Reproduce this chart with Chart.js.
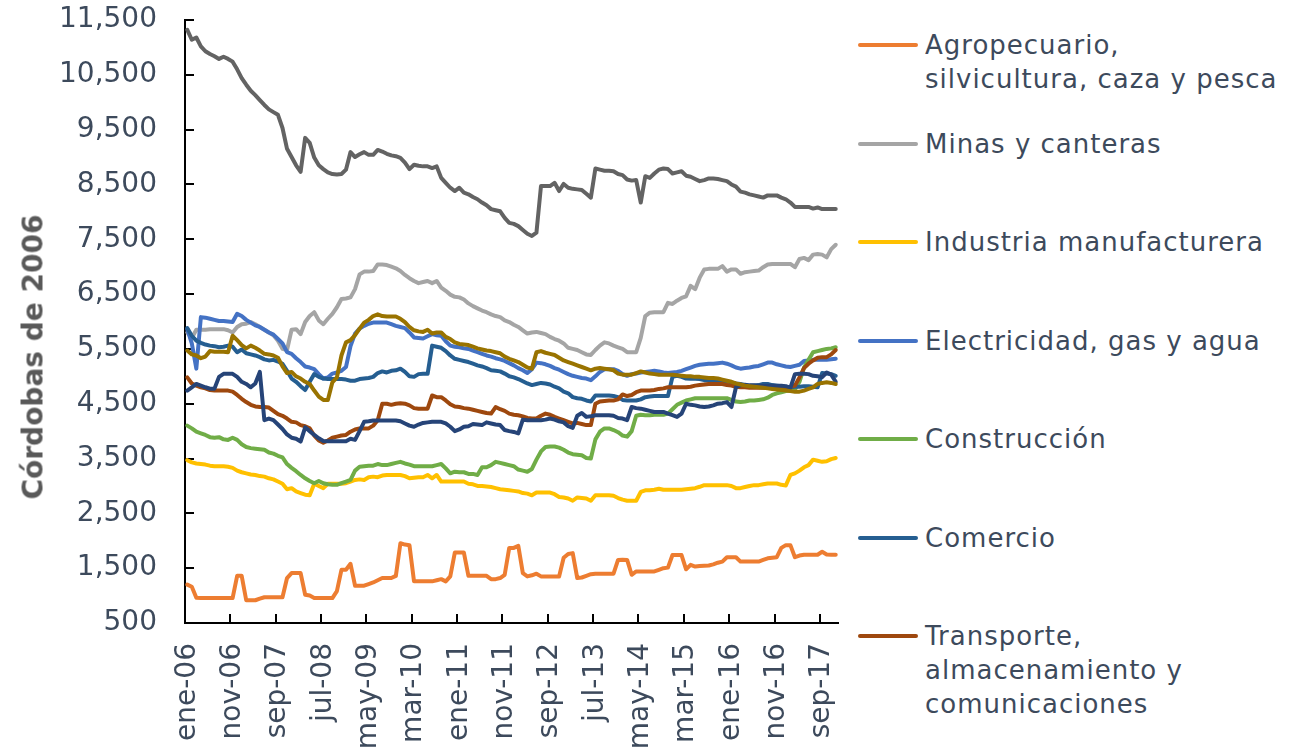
<!DOCTYPE html>
<html lang="es">
<head>
<meta charset="utf-8">
<title>Salario real por actividad económica</title>
<script src="https://cdn.jsdelivr.net/npm/chart.js@4.4.1/dist/chart.umd.min.js"></script>
<style>
  html, body { margin: 0; padding: 0; background: #fff; }
  body { width: 1293px; height: 752px; position: relative; overflow: hidden;
         font-family: "DejaVu Sans", Verdana, sans-serif; }
  #chartBox { position: absolute; left: 0; top: 0; width: 850px; height: 752px; }
  #yTitle { position: absolute; left: 33px; top: 357px; white-space: nowrap;
            transform: translate(-50%, -50%) rotate(-90deg);
            font-weight: bold; font-size: 28px; color: #595959; }
  #legend { position: absolute; left: 858px; top: 0; }
  .swatch { position: absolute; left: 0; width: 60px; height: 4px; border-radius: 2px; }
  .label { position: absolute; left: 67px; white-space: pre; font-size: 26px;
           line-height: 34px; letter-spacing: 1px; color: #3D4A5C; }
</style>
</head>
<body>
<div id="chartBox"><canvas id="chart"></canvas></div>
<div id="yTitle">Córdobas de 2006</div>
<div id="legend"></div>

<script>
// ===== DATA (monthly, ene-06 .. dic-17) =====
const monthNames = ['ene', 'feb', 'mar', 'abr', 'may', 'jun', 'jul', 'ago', 'sep', 'oct', 'nov', 'dic'];
const years = ['06', '07', '08', '09', '10', '11', '12', '13', '14', '15', '16', '17'];

const agropecuario = [
  1200, 1160, 960, 955, 955, 955, 955, 955, 955, 955, 955, 1360,
  1360, 915, 915, 915, 945, 970, 970, 970, 970, 970, 1320, 1410,
  1410, 1410, 1015, 1000, 955, 955, 955, 955, 955, 1080, 1470, 1470,
  1580, 1180, 1180, 1180, 1210, 1240, 1280, 1320, 1320, 1320, 1360, 1955,
  1930, 1920, 1260, 1260, 1260, 1260, 1260, 1280, 1300, 1260, 1350, 1785,
  1785, 1785, 1360, 1360, 1360, 1360, 1360, 1300, 1300, 1320, 1380, 1870,
  1870, 1906, 1410, 1350, 1370, 1400, 1350, 1350, 1350, 1350, 1350, 1690,
  1760, 1775, 1320, 1330, 1360, 1390, 1400, 1400, 1400, 1400, 1400, 1650,
  1655, 1650, 1380, 1440, 1440, 1440, 1440, 1440, 1470, 1500, 1510, 1740,
  1740, 1740, 1480, 1560, 1530, 1540, 1545, 1550, 1570, 1600, 1620, 1700,
  1700, 1700, 1620, 1620, 1620, 1620, 1620, 1650, 1680, 1690, 1700, 1870,
  1920, 1920, 1700, 1730, 1745, 1745, 1745, 1745, 1800, 1750, 1745, 1745
];

const minas = [
  5800, 5700, 5850, 5850, 5850, 5860, 5860, 5860, 5860, 5840, 5800, 5900,
  5950, 5960, 5990, 5950, 5900, 5850, 5800, 5750, 5650, 5500, 5480, 5850,
  5860, 5770, 5990, 6100, 6170, 6020, 5950, 6050, 6140, 6260, 6410, 6420,
  6440, 6590, 6860, 6910, 6910, 6920, 7040, 7040, 7030, 7000, 6970, 6920,
  6850, 6790, 6740, 6700, 6720, 6740, 6700, 6740, 6620, 6560, 6490, 6450,
  6440, 6400, 6330, 6280, 6240, 6200, 6170, 6130, 6100, 6080, 6020, 5990,
  5940, 5900, 5840, 5780, 5800, 5810, 5790, 5770, 5720, 5680, 5650, 5600,
  5520, 5500, 5480, 5440, 5400, 5390, 5480, 5560, 5620, 5600, 5560, 5530,
  5500, 5440, 5440, 5440, 5700, 6100, 6160, 6170, 6170, 6170, 6340, 6320,
  6380, 6430, 6460, 6650, 6590, 6800, 6950, 6960, 6960, 6960, 7010, 6910,
  6950, 6950, 6870, 6900, 6910, 6920, 6930, 6990, 7040, 7050, 7050, 7050,
  7050, 7050, 6990, 7140, 7160, 7120, 7220, 7230, 7220, 7170, 7320, 7400
];

const industria = [
  3470, 3430, 3410, 3400, 3390, 3370, 3360, 3360, 3360, 3350, 3330, 3280,
  3250, 3230, 3210, 3200, 3180, 3170, 3140, 3120, 3080, 3040, 2940, 2960,
  2900, 2870, 2840, 2830, 3040, 3000, 2960, 3040, 3040, 3040, 3040, 3050,
  3080, 3110, 3120, 3110, 3160, 3170, 3160, 3190, 3200, 3200, 3200, 3200,
  3180, 3140, 3150, 3160, 3160, 3200, 3140, 3200, 3080, 3080, 3080, 3080,
  3080, 3080, 3040, 3030, 3000, 3000, 2990, 2980, 2960, 2940, 2930, 2920,
  2910, 2900, 2870, 2860, 2830, 2880, 2880, 2880, 2880, 2850, 2800, 2790,
  2770, 2730, 2790, 2780, 2770, 2730, 2830, 2830, 2830, 2830, 2820, 2780,
  2750, 2730, 2730, 2730, 2890, 2920, 2920, 2930, 2950, 2930, 2930, 2930,
  2930, 2930, 2940, 2950, 2960, 2985, 3015, 3015, 3015, 3015, 3015, 3015,
  3000, 2960, 2960, 2980, 3000, 3015, 3015, 3030, 3045, 3045, 3045, 3020,
  3010, 3200, 3230, 3280, 3340, 3380, 3480, 3460, 3440, 3450, 3490, 3510
];

const electricidad = [
  5860, 5600, 5140, 6080, 6070, 6050, 6030, 6010, 6010, 6000, 5990, 6140,
  6100, 6030, 5980, 5930, 5900, 5850, 5800, 5760, 5680, 5600, 5440, 5410,
  5330, 5260, 5180, 5160, 5130, 5040, 4960, 4980, 5050, 5070, 5100, 5170,
  5550, 5780, 5870, 5920, 5960, 5980, 5980, 5980, 5980, 5950, 5920, 5900,
  5880, 5800, 5710, 5700, 5690, 5730, 5770, 5750, 5740, 5640, 5560, 5540,
  5530, 5510, 5500, 5470, 5440, 5410, 5380, 5360, 5330, 5310, 5280, 5240,
  5200, 5150, 5110, 5060, 5130, 5250, 5240, 5220, 5190, 5150, 5120, 5080,
  5040, 5010, 4990, 4970, 4960, 4930, 5000, 5080, 5130, 5130, 5130, 5100,
  5040, 5010, 5040, 5050, 5070, 5080, 5090, 5100, 5090, 5070, 5060, 5070,
  5080, 5100, 5130, 5160, 5190, 5210, 5220, 5230, 5230, 5240, 5250, 5230,
  5200, 5160, 5140, 5150, 5160, 5180, 5190, 5220, 5250, 5250, 5220, 5200,
  5180, 5170, 5190, 5210, 5280, 5290, 5300, 5300, 5300, 5300, 5310, 5320
];

const construccion = [
  4100, 4050, 3990, 3960, 3930, 3890, 3880, 3890, 3850, 3840, 3880, 3840,
  3760, 3710, 3690, 3680, 3670, 3660, 3610, 3590, 3550, 3520, 3400, 3330,
  3270, 3200, 3140, 3090, 3050, 3090, 3050, 3030, 3020, 3020, 3050, 3080,
  3110, 3280, 3350, 3360, 3370, 3370, 3400, 3380, 3380, 3400, 3420, 3440,
  3410, 3390, 3360, 3360, 3360, 3360, 3360, 3380, 3400, 3320, 3230, 3260,
  3250, 3250, 3220, 3220, 3200, 3340, 3340, 3380, 3440, 3420, 3400, 3380,
  3360, 3300, 3280, 3260, 3310, 3480, 3630, 3710, 3720, 3720, 3700, 3660,
  3610, 3580, 3570, 3560, 3510, 3500, 3850, 3990, 4050, 4050, 4020, 3980,
  3920, 3900, 4000, 4280, 4300, 4290, 4290, 4300, 4300, 4300, 4320, 4400,
  4480, 4520, 4560, 4580, 4600, 4600, 4600, 4600, 4600, 4600, 4600, 4600,
  4570, 4540, 4530, 4540, 4560, 4560, 4570, 4580, 4610, 4660, 4690, 4710,
  4730, 4740, 4760, 4900, 5160, 5300, 5440, 5460, 5480, 5500, 5510, 5530
];

const comercio = [
  5880, 5740, 5650, 5610, 5580, 5560, 5550, 5530, 5540, 5560, 5540, 5440,
  5490, 5420, 5400, 5380, 5350, 5310, 5290, 5300, 5270, 5230, 5100, 4960,
  4900, 4820, 4750, 4900, 5040, 4990, 4960, 4950, 4950, 4950, 4950, 4940,
  4920, 4920, 4950, 4960, 4970, 4990, 5060, 5090, 5070, 5100, 5110, 5140,
  5080, 5000, 4990, 5040, 5045, 5045, 5560, 5540, 5520, 5460, 5380, 5320,
  5300, 5280, 5260, 5230, 5200, 5180, 5150, 5110, 5100, 5090, 5050, 5000,
  4980, 4950, 4910, 4870, 4840, 4860, 4880, 4870, 4850, 4810, 4780, 4720,
  4690, 4620, 4600, 4590, 4560, 4540, 4650, 4650, 4650, 4650, 4640, 4620,
  4570, 4560, 4560, 4560, 4580, 4620, 4630, 4640, 4640, 4640, 4640, 4990,
  5010, 4990, 4960, 4955, 4955, 4950, 4930, 4925, 4920, 4920, 4915, 4905,
  4890, 4870, 4860, 4840, 4830, 4830, 4840, 4860, 4860, 4840, 4830, 4820,
  4800, 4800, 4810, 4810, 4820, 4820, 4810, 4800, 5060, 5050, 5040, 5010
];

const transporte = [
  4980, 4870, 4830, 4800, 4780, 4750, 4740, 4740, 4740, 4740, 4720, 4660,
  4590, 4530, 4480, 4450, 4440, 4440, 4430, 4370, 4310, 4280, 4230, 4170,
  4160, 4110, 4090, 4050, 3920, 3830, 3790, 3830, 3880, 3900, 3920, 3930,
  3990, 4030, 4050, 4050, 4050, 4100, 4200, 4500, 4500, 4480, 4500, 4510,
  4500, 4470, 4420, 4410, 4410, 4410, 4650, 4620, 4620, 4560, 4490, 4450,
  4440, 4420, 4410, 4390, 4370, 4350, 4330, 4320, 4440, 4400, 4370, 4320,
  4300, 4290, 4270, 4240, 4230, 4230, 4280, 4320, 4300, 4260, 4230, 4200,
  4170, 4140, 4150, 4130, 4110, 4110, 4500, 4540, 4550, 4560, 4560, 4580,
  4670, 4640, 4660, 4710, 4740, 4740, 4740, 4750, 4770, 4780, 4800, 4800,
  4800, 4800, 4800, 4810, 4830, 4840, 4850, 4860, 4860, 4860, 4860, 4840,
  4830, 4810, 4800, 4800, 4790, 4790, 4790, 4790, 4790, 4790, 4790, 4790,
  4800, 4810, 4830, 4980, 5150, 5230, 5290, 5340, 5350, 5350, 5400, 5480
];

// series drawn in the chart but cut off from the visible legend
const gobierno = [
  4740, 4800, 4860, 4830, 4800, 4775, 4775, 4990, 5045, 5045, 5045, 4990,
  4900, 4860, 4800, 4870, 5080, 4200, 4230, 4200, 4120, 4040, 3940, 3880,
  3860, 3810, 4070, 4000, 3930, 3870, 3820, 3815, 3815, 3815, 3815, 3815,
  3860, 3840, 4000, 4170, 4180, 4195, 4195, 4195, 4195, 4195, 4195, 4180,
  4140, 4100, 4080, 4120, 4150, 4160, 4170, 4170, 4170, 4140, 4080, 4000,
  4030, 4080, 4090, 4130, 4120, 4110, 4160, 4140, 4120, 4110, 4020, 4000,
  3985, 3960, 4210, 4200, 4200, 4200, 4200, 4210, 4230, 4210, 4180, 4160,
  4090, 4060, 4280, 4330, 4260, 4270, 4290, 4290, 4290, 4290, 4280, 4240,
  4230, 4200, 4440, 4420, 4410, 4390, 4370, 4350, 4350, 4350, 4320, 4290,
  4260, 4320, 4500, 4480, 4470, 4450, 4440, 4450, 4470, 4500, 4510, 4530,
  4440, 4800, 4840, 4845, 4835, 4835, 4830, 4830, 4830, 4830, 4830, 4830,
  4820, 4790, 5040, 5045, 5045, 5040, 5010, 5000, 4985, 5070, 5030, 4900
];

const financiero = [
  11320, 11140, 11180, 11020, 10930, 10880, 10840, 10790, 10830, 10790, 10740, 10600,
  10440, 10320, 10210, 10130, 10040, 9950, 9870, 9820, 9770, 9530, 9150, 9000,
  8850, 8730, 9350, 9260, 8990, 8850, 8780, 8720, 8690, 8680, 8690, 8770,
  9090, 9000, 9050, 9090, 9040, 9040, 9130, 9100, 9060, 9030, 9015, 8985,
  8900, 8780, 8860, 8840, 8830, 8830, 8800, 8830, 8620, 8530, 8440, 8380,
  8440, 8350, 8320, 8270, 8230, 8170, 8120, 8050, 8030, 8010, 7890, 7800,
  7780, 7740, 7670, 7600, 7560, 7620, 8470, 8470, 8470, 8530, 8380, 8510,
  8440, 8420, 8410, 8400, 8330, 8260, 8790, 8770, 8750, 8750, 8740, 8690,
  8670, 8590, 8570, 8580, 8170, 8650, 8620, 8700, 8770, 8790, 8780, 8700,
  8720, 8740, 8660, 8640, 8600, 8560, 8580, 8610, 8610, 8600, 8580, 8560,
  8500, 8460, 8370, 8350, 8320, 8300, 8280, 8260, 8300, 8300, 8300, 8260,
  8230, 8170, 8090, 8090, 8090, 8090, 8060, 8080, 8050, 8050, 8050, 8050
];

const servicios = [
  5470, 5400, 5380, 5330, 5360, 5460, 5450, 5450, 5450, 5440, 5740, 5660,
  5570, 5510, 5560, 5520, 5470, 5410, 5400, 5380, 5340, 5180, 5060, 5080,
  5000, 4960, 4900, 4860, 4740, 4630, 4570, 4570, 4890, 4980, 5380, 5620,
  5660, 5750, 5870, 5980, 6030, 6100, 6130, 6100, 6090, 6090, 6090, 6050,
  5990, 5900, 5840, 5820, 5810, 5850, 5780, 5800, 5800, 5720, 5680, 5620,
  5590, 5580, 5570, 5540, 5510, 5490, 5470, 5460, 5440, 5420, 5360, 5320,
  5290, 5260, 5210, 5160, 5140, 5440, 5460, 5430, 5410, 5390, 5340, 5290,
  5260, 5230, 5200, 5170, 5140, 5110, 5140, 5150, 5140, 5130, 5110, 5050,
  5030, 5030, 5030, 5060, 5090, 5070, 5050, 5040, 5030, 5030, 5030, 5030,
  5020, 5010, 5000, 5000, 4990, 4990, 4980, 4970, 4970, 4960, 4940, 4920,
  4900, 4870, 4850, 4830, 4820, 4810, 4800, 4790, 4780, 4770, 4760, 4750,
  4740, 4730, 4720, 4720, 4740, 4770, 4800, 4860, 4880, 4890, 4880, 4860
];

// y-axis ticks
const yMin = 500;
const yMax = 11500;
const yStep = 1000;

// ===== LABELS =====
const monthLabels = [];
years.forEach(y => {
    monthNames.forEach(m => monthLabels.push(m + '-' + y));
});

// series: name, values, colour, shown in legend
const series = [
    { name: 'Agropecuario,\nsilvicultura, caza y pesca', data: agropecuario, color: '#ED7D31', legend: true },
    { name: 'Minas y canteras', data: minas, color: '#A5A5A5', legend: true },
    { name: 'Industria manufacturera', data: industria, color: '#FFC000', legend: true },
    { name: 'Electricidad, gas y agua', data: electricidad, color: '#4472C4', legend: true },
    { name: 'Construcción', data: construccion, color: '#70AD47', legend: true },
    { name: 'Comercio', data: comercio, color: '#255E91', legend: true },
    { name: 'Transporte,\nalmacenamiento y\ncomunicaciones', data: transporte, color: '#9E480E', legend: true },
    { name: 'Gobierno central', data: gobierno, color: '#264478', legend: false },
    { name: 'Establecimientos financieros', data: financiero, color: '#636363', legend: false },
    { name: 'Servicios comunales, sociales y personales', data: servicios, color: '#997300', legend: false }
];

const textColor = '#3D4A5C';
const fontFamily = '"DejaVu Sans", Verdana, sans-serif';

// ===== CHART =====
const datasets = series.map((s, i) => ({
    label: s.name,
    data: s.data,
    borderColor: s.color,
    backgroundColor: s.color,
    borderWidth: 4,
    pointRadius: 0,
    tension: 0,
    fill: false,
    order: -i // later series on top, like the spreadsheet
}));

new Chart(document.getElementById('chart'), {
    type: 'line',
    data: { labels: monthLabels, datasets: datasets },
    options: {
        responsive: true,
        maintainAspectRatio: false,
        animation: false,
        layout: { padding: { top: 20, right: 12, left: 0, bottom: 0 } },
        plugins: {
            legend: { display: false },
            tooltip: { enabled: false }
        },
        elements: {
            line: { borderCapStyle: 'round', borderJoinStyle: 'round' }
        },
        scales: {
            x: {
                offset: true,
                grid: {
                    offset: true,
                    drawOnChartArea: false,
                    drawTicks: true,
                    tickLength: -9,
                    lineWidth: 2,
                    tickColor: c => (c.index % 10 === 0 ? '#000' : 'rgba(0,0,0,0)')
                },
                border: { display: true, color: '#000', width: 2 },
                ticks: {
                    autoSkip: false,
                    maxRotation: 90,
                    minRotation: 90,
                    padding: 29,
                    color: textColor,
                    font: { family: fontFamily, size: 28 },
                    callback: (v, i) => (i % 10 === 0 ? monthLabels[i] : '')
                },
                afterFit: scale => {
                    scale.height = 129;
                    scale.paddingLeft = 0;
                    scale.paddingRight = 0;
                }
            },
            y: {
                min: yMin,
                max: yMax,
                grid: {
                    drawOnChartArea: false,
                    drawTicks: true,
                    tickLength: -9,
                    lineWidth: 2,
                    tickColor: '#000'
                },
                border: { display: true, color: '#000', width: 2 },
                ticks: {
                    stepSize: yStep,
                    padding: 37,
                    color: textColor,
                    font: { family: fontFamily, size: 28 },
                    callback: v => v.toLocaleString('en-US')
                },
                afterFit: scale => {
                    scale.width = 185;
                    scale.paddingTop = 0;
                    scale.paddingBottom = 0;
                }
            }
        }
    }
});

// ===== LEGEND (HTML, one row every ~98px) =====
const legendBox = document.getElementById('legend');
let row = 0;
series.forEach(s => {
    if (!s.legend) return;
    const y = 45 + row * 98.5;
    const sw = document.createElement('div');
    sw.className = 'swatch';
    sw.style.top = (y - 2) + 'px';
    sw.style.background = s.color;
    const lb = document.createElement('div');
    lb.className = 'label';
    lb.style.top = (y - 17) + 'px';
    lb.textContent = s.name;
    legendBox.appendChild(sw);
    legendBox.appendChild(lb);
    row++;
});
</script>
</body>
</html>
